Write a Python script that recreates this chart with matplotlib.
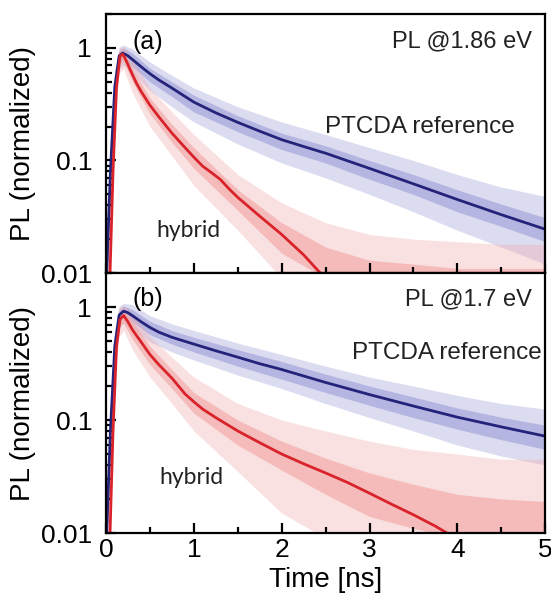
import numpy as np
import matplotlib.pyplot as plt
from matplotlib.ticker import FixedLocator, FixedFormatter, NullFormatter

plt.rcParams['font.family'] = ['Liberation Sans', 'DejaVu Sans']

# ---- fitted curves ----
# panel (a), PL @1.86 eV
t_ref_a = [0.0, 0.05, 0.1, 0.15, 0.19, 0.25, 0.3, 0.4, 0.5, 0.6, 0.75, 0.9, 1.0, 1.25, 1.5, 1.75, 2.0, 2.25, 2.5, 3.0, 3.5, 4.0, 4.5, 5.0]
pl_ref_a = [0.007, 0.08, 0.45, 0.85, 0.90, 0.85, 0.79, 0.68, 0.59, 0.52, 0.44, 0.37, 0.33, 0.265, 0.218, 0.182, 0.153, 0.133, 0.116, 0.085, 0.062, 0.045, 0.033, 0.0245]
t_hyb_a = [0.04, 0.08, 0.12, 0.16, 0.19, 0.22, 0.25, 0.3, 0.35, 0.4, 0.5, 0.6, 0.75, 0.9, 1.0, 1.1, 1.2, 1.3, 1.4, 1.5, 1.75, 2.0, 2.25, 2.45]
pl_hyb_a = [0.007, 0.08, 0.45, 0.85, 0.88, 0.80, 0.71, 0.58, 0.48, 0.41, 0.31, 0.245, 0.175, 0.13, 0.107, 0.089, 0.078, 0.068, 0.056, 0.047, 0.032, 0.022, 0.0145, 0.0098]

# panel (b), PL @1.7 eV
t_ref_b = [0.0, 0.05, 0.1, 0.15, 0.2, 0.25, 0.3, 0.4, 0.5, 0.6, 0.75, 1.0, 1.25, 1.5, 1.75, 2.0, 2.5, 3.0, 3.5, 4.0, 4.5, 5.0]
pl_ref_b = [0.007, 0.08, 0.45, 0.85, 0.92, 0.89, 0.84, 0.74, 0.66, 0.60, 0.54, 0.47, 0.41, 0.36, 0.315, 0.28, 0.215, 0.168, 0.133, 0.106, 0.087, 0.072]
t_hyb_b = [0.04, 0.08, 0.12, 0.16, 0.2, 0.25, 0.3, 0.4, 0.5, 0.6, 0.75, 0.9, 1.0, 1.1, 1.25, 1.5, 1.75, 2.0, 2.25, 2.5, 2.75, 3.0, 3.25, 3.5, 3.75, 3.9]
pl_hyb_b = [0.007, 0.08, 0.45, 0.78, 0.84, 0.74, 0.63, 0.49, 0.38, 0.31, 0.235, 0.17, 0.145, 0.125, 0.105, 0.08, 0.063, 0.05, 0.041, 0.034, 0.028, 0.0225, 0.018, 0.0145, 0.0115, 0.0098]

# ---- spread of the raw (noisy) traces: dense core and spikes ----
t_n = [0.0, 0.05, 0.1, 0.15, 0.2, 0.3, 0.5, 0.75, 1.0, 1.5, 2.0, 2.5, 3.0, 3.5, 4.0, 4.5, 5.0]

ref_a_hi = [0.009, 0.11, 0.55, 0.95, 1.0, 0.9, 0.66, 0.5, 0.38, 0.25, 0.175, 0.135, 0.1, 0.075, 0.055, 0.041, 0.031]
ref_a_lo = [0.005, 0.06, 0.36, 0.75, 0.8, 0.68, 0.5, 0.37, 0.27, 0.18, 0.125, 0.095, 0.068, 0.05, 0.035, 0.026, 0.019]
ref_a_top = [0.01, 0.14, 0.65, 1.02, 1.06, 0.98, 0.75, 0.57, 0.44, 0.3, 0.22, 0.17, 0.13, 0.1, 0.075, 0.058, 0.048]
ref_a_bot = [0.005, 0.04, 0.28, 0.65, 0.7, 0.6, 0.42, 0.3, 0.22, 0.14, 0.095, 0.07, 0.05, 0.035, 0.024, 0.017, 0.012]

hyb_a_hi = [0.005, 0.1, 0.5, 0.92, 0.96, 0.65, 0.36, 0.21, 0.13, 0.055, 0.028, 0.017, 0.013, 0.012, 0.011, 0.011, 0.011]
hyb_a_lo = [0.004, 0.05, 0.33, 0.72, 0.76, 0.5, 0.26, 0.145, 0.085, 0.036, 0.015, 0.009, 0.009, 0.009, 0.009, 0.009, 0.009]
hyb_a_top = [0.006, 0.13, 0.62, 1.0, 1.03, 0.78, 0.44, 0.27, 0.17, 0.075, 0.042, 0.028, 0.022, 0.02, 0.019, 0.018, 0.018]
hyb_a_bot = [0.004, 0.03, 0.25, 0.6, 0.65, 0.4, 0.2, 0.11, 0.06, 0.024, 0.009, 0.009, 0.009, 0.009, 0.009, 0.009, 0.009]

ref_b_hi = [0.009, 0.11, 0.55, 0.95, 1.02, 0.95, 0.75, 0.62, 0.54, 0.42, 0.33, 0.255, 0.2, 0.16, 0.128, 0.106, 0.09]
ref_b_lo = [0.005, 0.06, 0.36, 0.75, 0.82, 0.74, 0.57, 0.47, 0.4, 0.3, 0.23, 0.175, 0.135, 0.105, 0.083, 0.067, 0.055]
ref_b_top = [0.01, 0.14, 0.65, 1.02, 1.08, 1.05, 0.84, 0.71, 0.62, 0.48, 0.38, 0.3, 0.24, 0.2, 0.165, 0.14, 0.125]
ref_b_bot = [0.005, 0.04, 0.28, 0.65, 0.72, 0.64, 0.49, 0.4, 0.34, 0.25, 0.19, 0.14, 0.105, 0.08, 0.06, 0.048, 0.04]

hyb_b_hi = [0.005, 0.1, 0.5, 0.9, 0.96, 0.75, 0.45, 0.28, 0.175, 0.1, 0.065, 0.046, 0.034, 0.027, 0.022, 0.02, 0.019]
hyb_b_lo = [0.004, 0.05, 0.33, 0.68, 0.72, 0.52, 0.31, 0.19, 0.115, 0.06, 0.036, 0.022, 0.014, 0.011, 0.009, 0.009, 0.009]
hyb_b_top = [0.006, 0.13, 0.62, 1.0, 1.03, 0.88, 0.55, 0.36, 0.24, 0.14, 0.1, 0.08, 0.065, 0.055, 0.05, 0.045, 0.045]
hyb_b_bot = [0.004, 0.03, 0.25, 0.55, 0.62, 0.42, 0.24, 0.14, 0.08, 0.035, 0.015, 0.009, 0.009, 0.009, 0.009, 0.009, 0.009]

blue = '#23237a'
red = '#d8232a'
blue_n = '#a9a9dc'
red_n = '#f3aaaa'

fig = plt.figure(figsize=(5.51, 6.07), dpi=100)
ax1 = fig.add_axes([0.1924, 0.5502, 0.797, 0.4267])
ax2 = fig.add_axes([0.1924, 0.1219, 0.797, 0.4283])

panels = [
    (ax1, t_ref_a, pl_ref_a, t_hyb_a, pl_hyb_a, ref_a_hi, ref_a_lo, ref_a_top, ref_a_bot,
     hyb_a_hi, hyb_a_lo, hyb_a_top, hyb_a_bot, '(a)', 'PL @1.86 eV', 1.13, 2.49, 0.2, 0.94, 0.024),
    (ax2, t_ref_b, pl_ref_b, t_hyb_b, pl_hyb_b, ref_b_hi, ref_b_lo, ref_b_top, ref_b_bot,
     hyb_b_hi, hyb_b_lo, hyb_b_top, hyb_b_bot, '(b)', 'PL @1.7 eV', 1.17, 2.8, 0.39, 0.97, 0.031),
]

for (ax, tr, pr, th, ph, rhi, rlo, rtop, rbot, hhi, hlo, htop, hbot,
     tag, energy, ey, rx, ry, hx, hy) in panels:
    # raw traces shown as their spread
    ax.fill_between(t_n, rbot, rtop, color=blue_n, alpha=0.4, lw=0)
    ax.fill_between(t_n, rlo, rhi, color=blue_n, alpha=0.75, lw=0)
    ax.fill_between(t_n, hbot, htop, color=red_n, alpha=0.35, lw=0)
    ax.fill_between(t_n, hlo, hhi, color=red_n, alpha=0.7, lw=0)
    # fits
    ax.plot(tr, pr, color=blue, lw=2.0)
    ax.plot(th, ph, color=red, lw=2.0)

    ax.set_yscale('log')
    ax.set_xlim(0, 5)
    ax.set_ylim(0.01, 2.0)

    ax.yaxis.set_major_locator(FixedLocator([0.01, 0.1, 1]))
    ax.yaxis.set_major_formatter(FixedFormatter(['0.01', '0.1', '1']))
    ax.yaxis.set_minor_locator(FixedLocator([k * 10.0**e for e in (-2, -1, 0) for k in range(2, 10)]))
    ax.yaxis.set_minor_formatter(NullFormatter())
    ax.xaxis.set_major_locator(FixedLocator([0, 1, 2, 3, 4, 5]))
    ax.xaxis.set_minor_locator(FixedLocator([0.5, 1.5, 2.5, 3.5, 4.5]))

    ax.tick_params(which='both', direction='in', top=False, right=False, width=1.6)
    ax.tick_params(which='major', length=7, labelsize=19)
    ax.tick_params(axis='y', which='major', pad=10)
    ax.tick_params(which='minor', length=4)
    for s in ax.spines.values():
        s.set_linewidth(1.6)

    ax.set_ylabel('PL (normalized)', fontsize=20)
    ax.yaxis.set_label_coords(-0.16, 0.5)

    ax.text(0.3, ey, tag, fontsize=18, ha='left', va='center')
    ax.text(4.85, ey, energy, fontsize=17, ha='right', va='center', color='#222222')
    ax.text(rx, ry, 'PTCDA reference', fontsize=17.5, ha='left', va='center', color='#222222')
    ax.text(hx, hy, 'hybrid', fontsize=16.5, ha='center', va='center', color='#222222',
            family=['Lato', 'DejaVu Sans'])

ax1.tick_params(labelbottom=False)
ax2.set_xlabel('Time [ns]', fontsize=20, labelpad=4)

fig.savefig('out.png', dpi=100)
